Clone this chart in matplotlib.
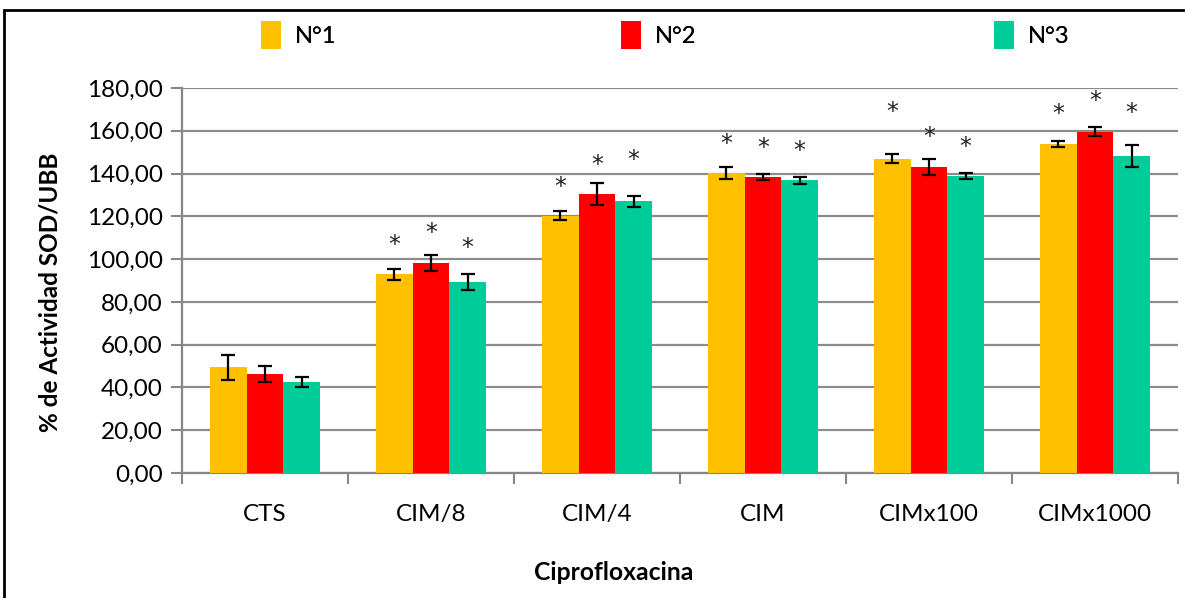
import matplotlib.pyplot as plt
import numpy as np
from matplotlib.patches import Rectangle

plt.rcParams['font.family'] = ['Lato', 'DejaVu Sans']

# datos
categorias = ['CTS', 'CIM/8', 'CIM/4', 'CIM', 'CIMx100', 'CIMx1000']
series = ['N°1', 'N°2', 'N°3']
n1 = [49.4, 93.0, 120.3, 140.3, 146.9, 153.9]
n2 = [46.3, 98.2, 130.3, 138.4, 142.9, 159.6]
n3 = [42.7, 89.3, 127.0, 136.8, 138.9, 148.2]
err_n1 = [6.0, 2.6, 2.2, 2.7, 2.1, 1.5]
err_n2 = [3.9, 3.6, 5.2, 1.3, 3.7, 2.0]
err_n3 = [2.3, 3.7, 2.5, 1.5, 1.4, 5.2]
# posicion de los asteriscos (None = sin asterisco)
star_n1 = [None, 107.9, 135.0, 155.2, 170.0, 168.9]
star_n2 = [None, 113.3, 145.1, 153.3, 158.2, 174.9]
star_n3 = [None, 106.3, 147.4, 151.8, 153.8, 169.7]

colores = ['#FFC000', '#FF0000', '#00CC99']

fig = plt.figure(figsize=(11.85, 5.98), dpi=100)
ax = fig.add_axes([182 / 1185, 1 - 473 / 598, 996 / 1185, 385 / 598])

x = np.arange(len(categorias))
w = 0.221
valores = [n1, n2, n3]
errores = [err_n1, err_n2, err_n3]
estrellas = [star_n1, star_n2, star_n3]
barras = []
for i in range(3):
    pos = x + (i - 1) * w
    b = ax.bar(pos, valores[i], w, color=colores[i], label=series[i], zorder=3)
    barras.append(b)
    ax.errorbar(pos, valores[i], yerr=errores[i], fmt='none', ecolor='black',
                elinewidth=1.6, capsize=5, capthick=1.6, zorder=4)
    for p, s in zip(pos, estrellas[i]):
        if s is not None:
            ax.text(p, s, '*', ha='center', va='center_baseline', fontsize=17,
                    color='#222222', family='DejaVu Sans', zorder=5)

ax.set_xlim(-0.5, len(categorias) - 0.5)
ax.set_ylim(0, 180)
ax.set_yticks(np.arange(0, 181, 20))
ax.set_yticklabels([f'{v:.2f}'.replace('.', ',') for v in np.arange(0, 181, 20)])
ax.set_xticks(x)
ax.set_xticklabels(categorias)
ax.set_xticks(np.arange(-0.5, len(categorias), 1), minor=True)
ax.tick_params(axis='x', which='major', length=0, pad=22, labelsize=17.5)
ax.tick_params(axis='x', which='minor', length=8, width=1.5, color='#868686')
ax.tick_params(axis='y', length=8, width=1.5, color='#868686', labelsize=17.5, pad=6)

ax.grid(axis='y', color='#8c8c8c', linewidth=1.6, zorder=0)
for s in ['top', 'right']:
    ax.spines[s].set_visible(False)
for s in ['left', 'bottom']:
    ax.spines[s].set_color('#868686')
    ax.spines[s].set_linewidth(1.6)

# titulos de ejes (posicion como en el original)
fig.text(50 / 1185, 1 - 292 / 598, '% de Actividad SOD/UBB', rotation=90,
         ha='center', va='center', fontsize=17.5, fontweight='bold')
fig.text(614 / 1185, 1 - 573 / 598, 'Ciprofloxacina', ha='center', va='center',
         fontsize=17.8, fontweight='bold')

# leyenda: una entrada por serie, repartidas a lo ancho
leg_x = [244, 604, 977]
for b, lx in zip(barras, leg_x):
    lg = fig.legend(handles=[b], loc='center left', bbox_to_anchor=(lx / 1185, 1 - 35 / 598),
                    frameon=False, fontsize=17, handlelength=0.85, handleheight=1.45,
                    handletextpad=0.6, borderpad=0.2)
    fig.add_artist(lg)

# marco exterior
fig.patches.append(Rectangle((4 / 1185, -0.1), 1.2, 1 - 10 / 598 + 0.1,
                             transform=fig.transFigure, fill=False,
                             edgecolor='black', linewidth=2))

fig.savefig('out.png', dpi=100)
